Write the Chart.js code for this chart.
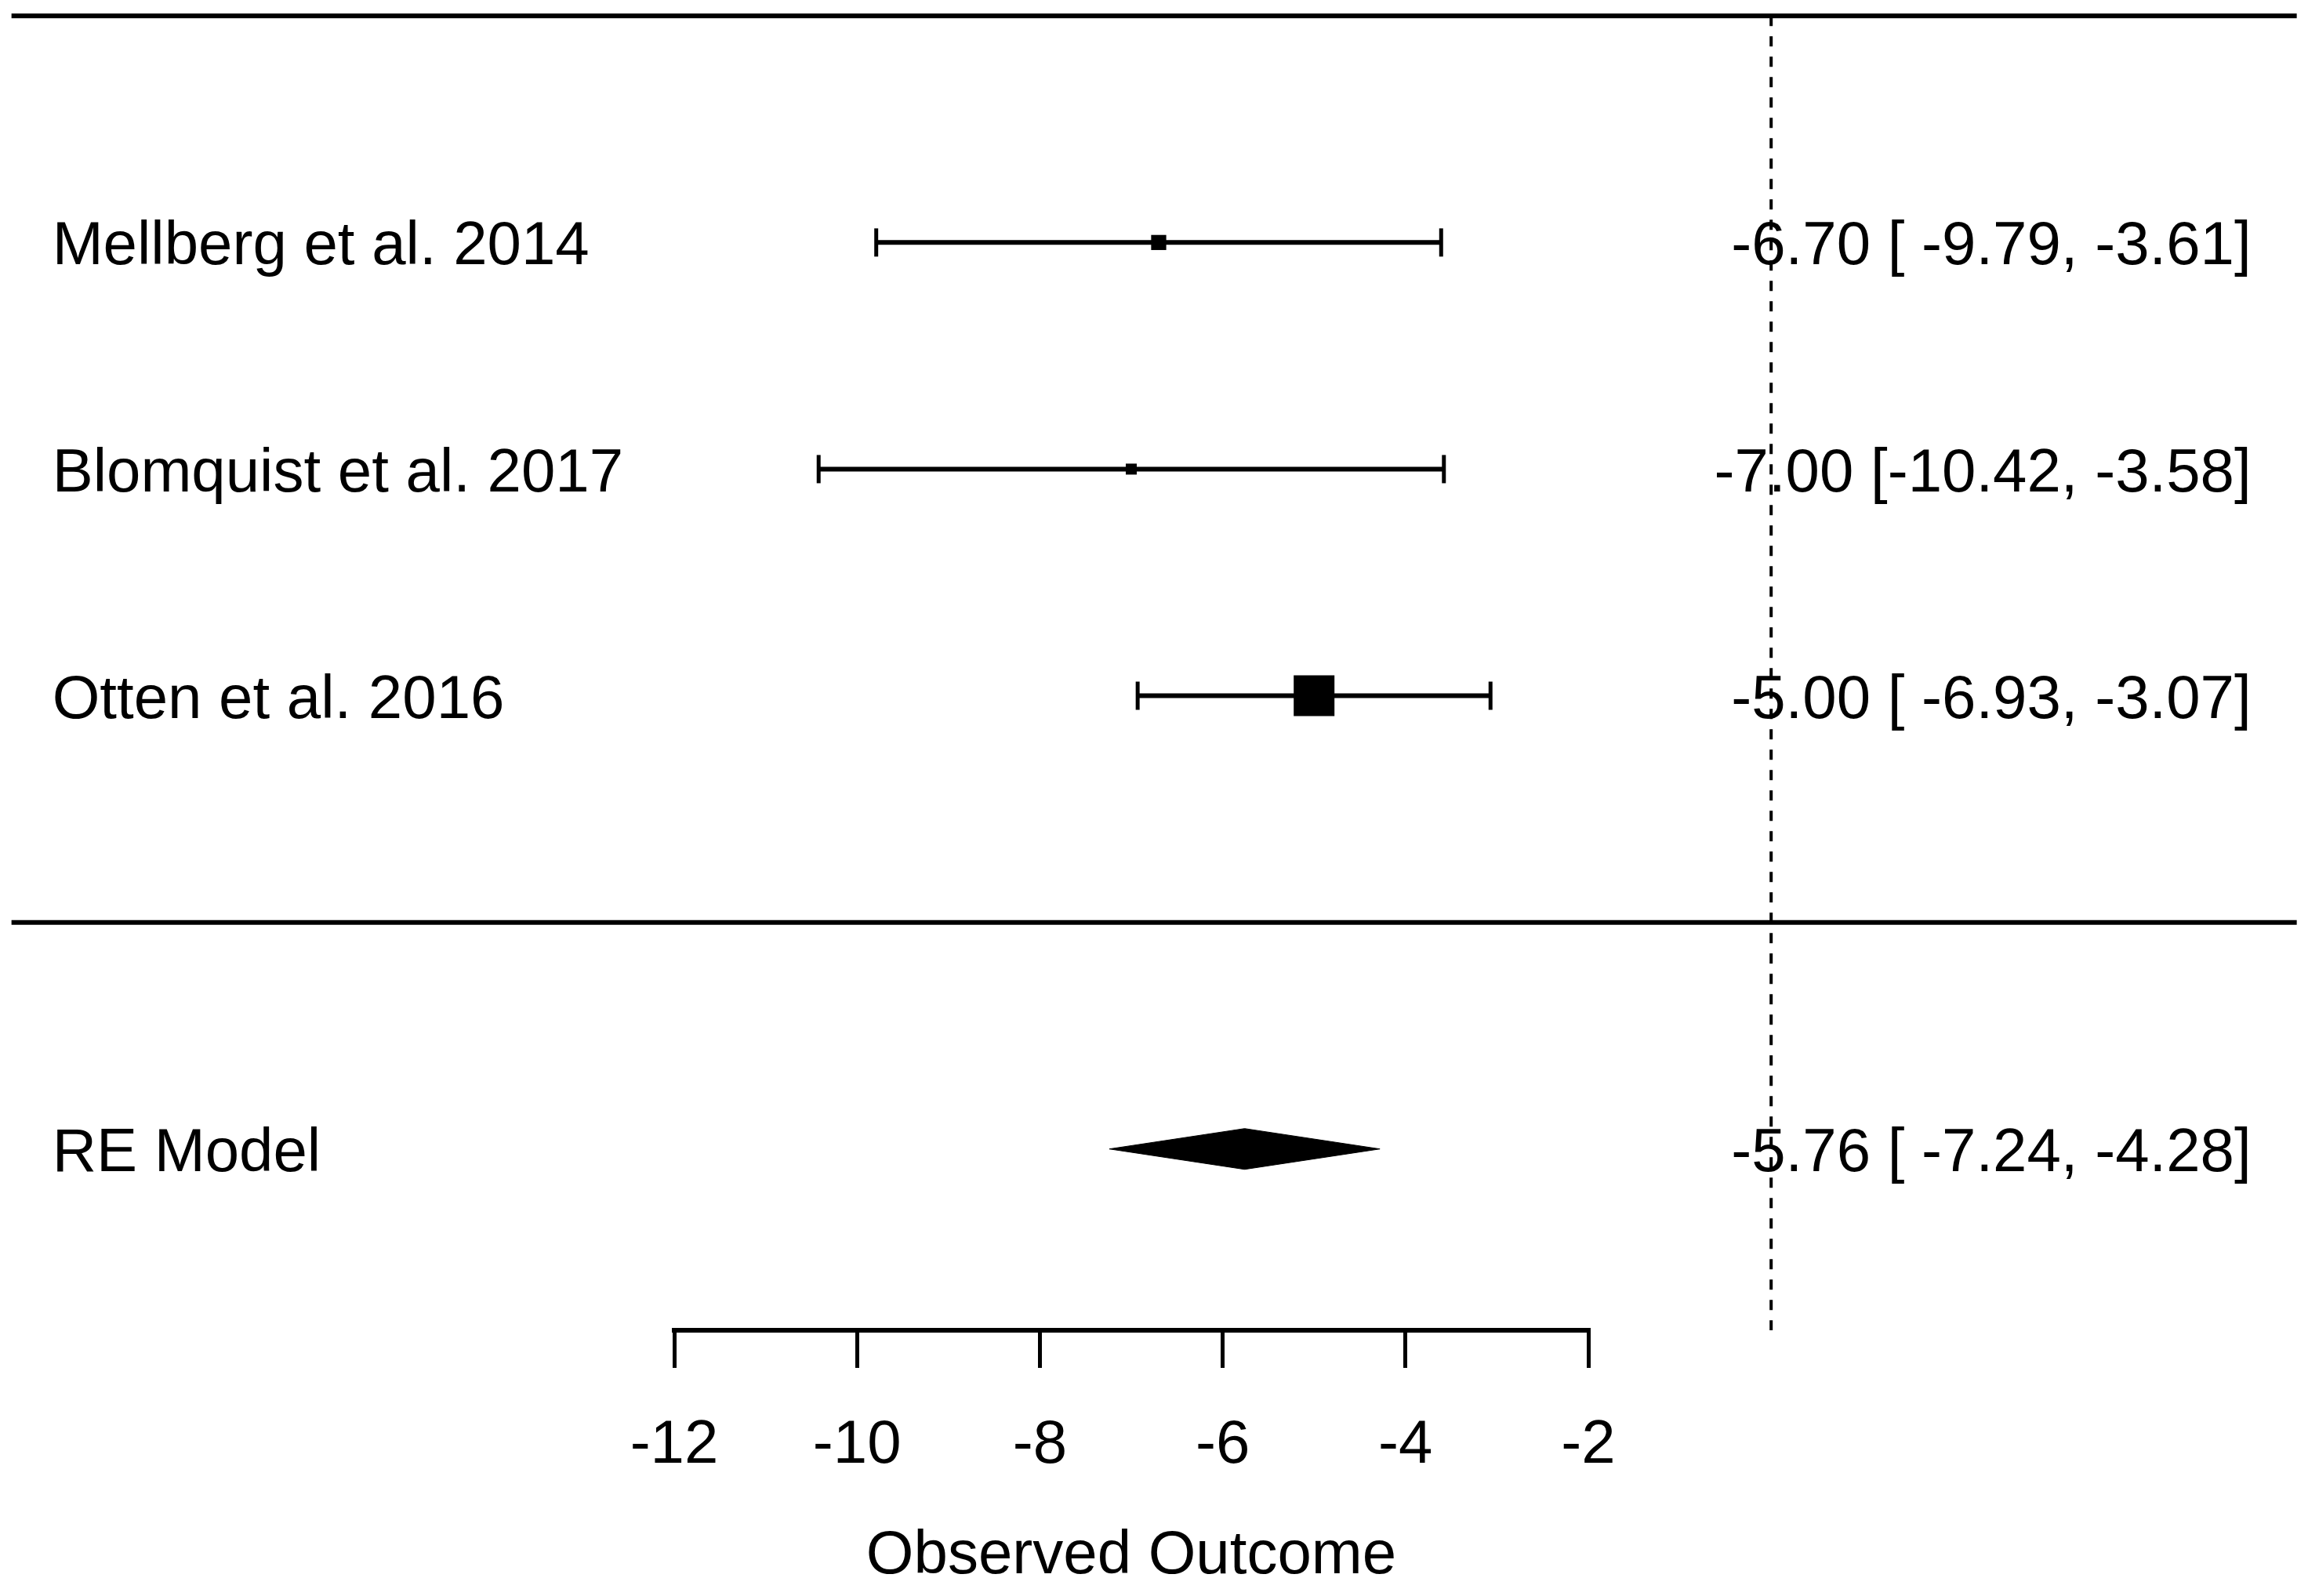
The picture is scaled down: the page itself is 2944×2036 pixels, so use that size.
<!DOCTYPE html>
<html>
<head>
<meta charset="utf-8">
<title>Forest plot</title>
<script src="https://cdn.jsdelivr.net/npm/chart.js@4.4.1/dist/chart.umd.min.js"></script>
<style>
  html, body { margin: 0; padding: 0; background: #fff; }
  canvas { display: block; }
</style>
</head>
<body>
<canvas id="forest" width="2944" height="2036"></canvas>
<script>
// study data
const studies = ['Mellberg et al. 2014', 'Blomquist et al. 2017', 'Otten et al. 2016'];
const estimates = [-6.70, -7.00, -5.00];
const lower = [-9.79, -10.42, -6.93];
const upper = [-3.61, -3.58, -3.07];

// summary (random effects) row
const modelLabel = 'RE Model';
const modelEst = -5.76;
const modelLower = -7.24;
const modelUpper = -4.28;

const xTicks = [-12, -10, -8, -6, -4, -2];
const refLine = 0;
const xlim = [-19.25, 5.75];   // full plot width, like xlim in metafor
const axisTitle = 'Observed Outcome';

// styling
const FONT = '"Liberation Sans", Arial, sans-serif';
const FS = 78;
const diamondHalf = 0.09;

const k = studies.length;
const rows = studies.map((s, i) => k - i);   // 3, 2, 1
const modelRow = -1;

// box size from precision (1/se), rescaled like metafor does
const se = lower.map((lo, i) => (upper[i] - lo) / 3.92);
const wi = se.map(s => 1 / s);
const wMin = Math.min(...wi), wMax = Math.max(...wi);
const boxSide = wi.map(w => 14 + 38 * (w - wMin) / (wMax - wMin));

const fmt = v => v.toFixed(2);
const annot = (e, lo, hi) => fmt(e) + ' [' + fmt(lo).padStart(6) + ', ' + fmt(hi).padStart(5) + ']';

const ciSets = studies.map((s, i) => ({
    data: [{x: lower[i], y: rows[i]}, {x: upper[i], y: rows[i]}],
    showLine: true,
    borderColor: '#000',
    borderWidth: 6,
    pointStyle: 'line',
    rotation: 90,
    pointRadius: 18,
    pointBorderWidth: 5,
    pointBorderColor: '#000',
    order: 2
}));

const labelPlugin = {
    id: 'forestText',
    afterDraw(chart) {
        const ctx = chart.ctx;
        const xs = chart.scales.x, ys = chart.scales.y;
        const leftX = xs.getPixelForValue(xlim[0]) + 52;
        const rightX = xs.getPixelForValue(xlim[1]) - 58;
        ctx.save();
        ctx.fillStyle = '#000';
        ctx.font = FS + 'px ' + FONT;
        ctx.textBaseline = 'alphabetic';
        const put = (txt, row, align, x) => {
            ctx.textAlign = align;
            ctx.fillText(txt, x, ys.getPixelForValue(row) + FS * 0.36);
        };
        studies.forEach((s, i) => {
            put(s, rows[i], 'left', leftX);
            put(annot(estimates[i], lower[i], upper[i]), rows[i], 'right', rightX);
        });
        put(modelLabel, modelRow, 'left', leftX);
        put(annot(modelEst, modelLower, modelUpper), modelRow, 'right', rightX);
        ctx.restore();
    }
};

new Chart(document.getElementById('forest').getContext('2d'), {
    type: 'scatter',
    data: {
        datasets: [
            // top line and separator line
            {
                data: [{x: xlim[0], y: k + 1}, {x: xlim[1], y: k + 1}],
                showLine: true, borderColor: '#000', borderWidth: 6,
                pointRadius: 0, clip: false
            },
            {
                data: [{x: xlim[0], y: 0}, {x: xlim[1], y: 0}],
                showLine: true, borderColor: '#000', borderWidth: 6,
                pointRadius: 0, clip: false
            },
            // reference line
            {
                data: [{x: refLine, y: k + 1}, {x: refLine, y: -1.8}],
                showLine: true, borderColor: '#000', borderWidth: 4,
                borderDash: [13, 13], pointRadius: 0, clip: false
            },
            ...ciSets,
            // study estimates
            {
                data: estimates.map((e, i) => ({x: e, y: rows[i]})),
                pointStyle: 'rect',
                pointRadius: boxSide.map(s => s / 2 / Math.SQRT1_2),
                backgroundColor: '#000',
                borderWidth: 0,
                order: 1
            },
            // summary diamond
            {
                data: [
                    {x: modelLower, y: modelRow},
                    {x: modelEst, y: modelRow + diamondHalf},
                    {x: modelUpper, y: modelRow},
                    {x: modelEst, y: modelRow - diamondHalf},
                    {x: modelLower, y: modelRow}
                ],
                showLine: true,
                fill: 'shape',
                backgroundColor: '#000',
                borderColor: '#000',
                borderWidth: 1,
                pointRadius: 0,
                clip: false
            }
        ]
    },
    options: {
        responsive: false,
        devicePixelRatio: 1,
        animation: false,
        layout: { autoPadding: false, padding: { left: 860, right: 918, top: 0, bottom: 0 } },
        plugins: { legend: { display: false }, tooltip: { enabled: false } },
        scales: {
            x: {
                type: 'linear',
                position: 'bottom',
                min: xTicks[0],
                max: xTicks[xTicks.length - 1],
                afterBuildTicks: s => { s.ticks = xTicks.map(v => ({value: v})); },
                afterFit: s => { s.height = 339; },
                ticks: {
                    color: '#000',
                    font: { family: FONT, size: FS },
                    padding: 53,
                    maxRotation: 0,
                    callback: v => String(v)
                },
                grid: {
                    drawOnChartArea: false,
                    drawTicks: true,
                    tickLength: 48,
                    color: '#000',
                    lineWidth: 5
                },
                border: { display: true, color: '#000', width: 6 },
                title: {
                    display: true,
                    text: axisTitle,
                    color: '#000',
                    font: { family: FONT, size: FS },
                    padding: { top: 0, bottom: 4 }
                }
            },
            y: {
                type: 'linear',
                display: false,
                min: -1.8,
                max: 4.07
            }
        }
    },
    plugins: [labelPlugin]
});
</script>
</body>
</html>
